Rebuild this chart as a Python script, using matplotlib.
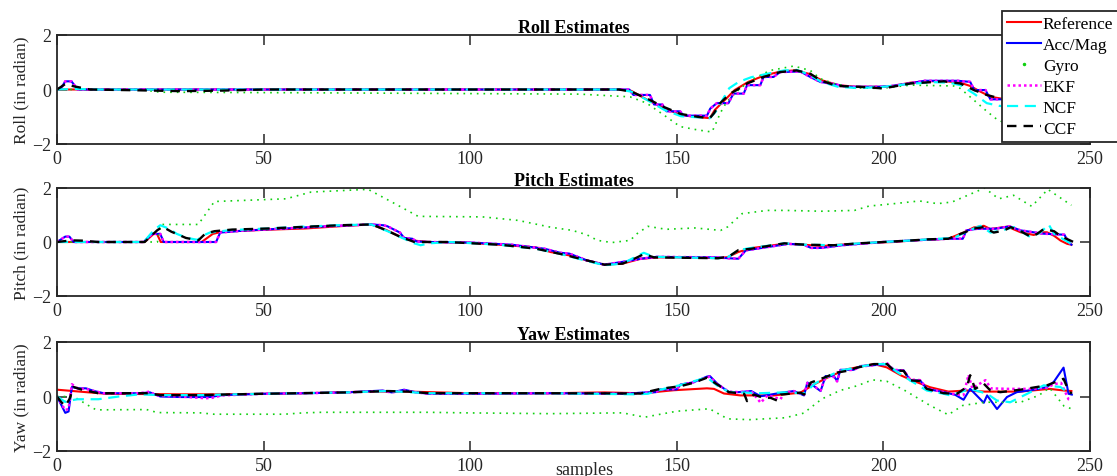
import matplotlib
matplotlib.use("Agg")
import matplotlib.pyplot as plt
from matplotlib.lines import Line2D

plt.rcParams['font.family'] = ['Liberation Serif', 'DejaVu Serif']

labels = ['Reference', 'Acc/Mag', 'Gyro', 'EKF', 'NCF', 'CCF']
titles = ['Roll Estimates', 'Pitch Estimates', 'Yaw Estimates']
ylabels = ['Roll (in radian)', 'Pitch (in radian)', 'Yaw (in radian)']
xticks = [0, 50, 100, 150, 200, 250]
yticks = [-2, 0, 2]

# ---------------- roll ----------------
roll_ref_x = [0, 136, 139, 143, 147, 151, 154, 158, 159.2, 161.6, 164, 167.3, 171.3, 175.4, 178.6, 181.9,
              185.1, 189.1, 193.2, 199.6, 202.5, 206.5, 210.6, 214.6, 218.6, 221, 223.5, 226, 228.4, 232, 236, 240, 246]
roll_ref_y = [0, 0, -0.05, -0.39, -0.69, -0.93, -1.0, -1.05, -0.75, -0.39, -0.02, 0.28, 0.52, 0.67, 0.70, 0.58,
              0.34, 0.16, 0.10, 0.10, 0.13, 0.25, 0.30, 0.31, 0.25, 0.13, -0.08, -0.27, -0.33, -0.4, -0.45, -0.5, -0.5]
roll_acc_x = [0, 1, 2, 3.5, 5, 138.5, 139.5, 143.5, 144.5, 146.5, 147.5, 150.8, 151.6, 157.3, 158.1, 159.7,
              162.5, 163.7, 166.2, 167, 170.2, 171, 173.4, 175, 179.9, 182.3, 184.7, 187.9, 191.2, 199, 202, 206,
              210, 218, 221, 222, 224.7, 225.9, 228.3, 232, 236, 240, 246]
roll_acc_y = [0, 0.05, 0.3, 0.3, 0, 0, -0.2, -0.2, -0.55, -0.55, -0.8, -0.8, -0.96, -0.96, -0.7, -0.5,
              -0.5, -0.15, -0.15, 0.16, 0.16, 0.46, 0.46, 0.64, 0.66, 0.46, 0.28, 0.2, 0.1, 0.1, 0.13, 0.22,
              0.32, 0.32, 0.28, -0.02, -0.02, -0.36, -0.36, -0.4, -0.45, -0.5, -0.5]
roll_gyro_x = [0, 20, 25, 60, 100, 126.6, 138.7, 142.7, 146.8, 150.8, 154.9, 158.5, 159.3, 160.5, 162.1,
               165.3, 168.6, 172.6, 178.3, 182.3, 184.7, 188, 192.8, 199.3, 206.5, 217, 218.6, 221.9, 225.1,
               227.5, 232, 238, 246]
roll_gyro_y = [0, 0, -0.1, -0.12, -0.15, -0.17, -0.27, -0.5, -0.93, -1.36, -1.48, -1.56, -1.3, -0.87, -0.45,
               0.04, 0.4, 0.7, 0.86, 0.7, 0.4, 0.22, 0.06, 0.04, 0.16, 0.13, 0.04, -0.39, -0.81,
               -1.1, -1.4, -1.6, -1.7]
roll_ekf_x = roll_acc_x
roll_ekf_y = roll_acc_y
roll_ncf_x = [0, 5, 10, 136, 139, 143, 147, 151, 155, 158, 159.5, 161, 162.7, 165, 168, 172, 176, 179, 182,
              185, 189, 194, 200, 206, 212, 216, 218.6, 221.9, 225, 228, 232, 240, 246]
roll_ncf_y = [0, 0.02, 0, 0, -0.08, -0.4, -0.75, -0.98, -1.02, -1.05, -0.8, -0.4, 0.05, 0.28, 0.45, 0.58,
              0.7, 0.72, 0.55, 0.28, 0.1, 0.05, 0.1, 0.2, 0.27, 0.25, 0.16, -0.15, -0.5, -0.6, -0.65, -0.7, -0.7]
roll_ccf_x = [0, 1, 2, 4, 8, 20, 30, 40, 50, 136, 139, 143, 147, 151, 155, 158, 159, 160.5, 162.9, 164.5,
              167, 171, 175, 179, 182.3, 184.7, 188.7, 194, 200, 206.5, 214.6, 218.6, 221.9, 225, 228.3, 232,
              240, 246]
roll_ccf_y = [0, 0.1, 0.2, 0.12, 0, -0.03, -0.06, -0.04, 0, 0, -0.08, -0.35, -0.65, -0.9, -1.0, -1.05,
              -0.87, -0.5, -0.15, -0.02, 0.22, 0.46, 0.64, 0.7, 0.58, 0.34, 0.13, 0.1, 0.04, 0.22, 0.3, 0.22,
              -0.02, -0.2, -0.33, -0.45, -0.55, -0.55]

# ---------------- pitch ----------------
pitch_ref_x = [0, 21.2, 23.4, 24.2, 25.1, 35, 37.7, 40, 50, 60, 70, 76, 79.6, 83, 86.5, 90, 98.6, 107,
               115.9, 119.4, 123.8, 128.2, 132.5, 136.9, 141.3, 145.7, 154.4, 159.7, 162.3, 164.9, 168.4,
               171.9, 176.3, 180.7, 185.1, 189.5, 198.2, 202.6, 207, 211.3, 215.7, 219.5, 221.9, 224.3,
               225.9, 230, 233.2, 236.4, 238, 239.6, 241.3, 242.9, 244.5, 245.5]
pitch_ref_y = [0, 0, 0.3, 0.3, 0, 0, 0.3, 0.38, 0.45, 0.5, 0.6, 0.65, 0.45, 0.2, 0.05, 0, -0.02, -0.1,
               -0.2, -0.37, -0.49, -0.68, -0.84, -0.8, -0.62, -0.57, -0.57, -0.6, -0.56, -0.37, -0.22,
               -0.15, -0.06, -0.1, -0.15, -0.1, -0.02, 0, 0.06, 0.09, 0.12, 0.36, 0.54, 0.6,
               0.48, 0.57, 0.36, 0.26, 0.36, 0.36, 0.23, 0.05, -0.07, -0.1]
pitch_acc_x = [0, 1, 2, 3, 4, 21, 23, 25, 25.8, 38.5, 39.5, 45, 55, 65, 76, 79, 80, 83, 84, 86, 87, 90,
               100, 110, 118, 121.8, 124, 128.2, 132.5, 137.5, 141.3, 145, 159.7, 162.3, 164.9, 166.7,
               171.9, 176.9, 180.7, 182.5, 185, 190, 200, 210, 215.7, 219.2, 220.1, 222.7, 227, 230.6,
               233.2, 235.9, 238.5, 243.8, 244.7, 245.5]
pitch_acc_y = [0, 0.1, 0.2, 0.2, 0, 0, 0.3, 0.3, 0, 0, 0.35, 0.42, 0.5, 0.58, 0.65, 0.62, 0.58, 0.35,
               0.15, 0.12, 0.02, 0, -0.02, -0.1, -0.25, -0.4, -0.43, -0.68, -0.84, -0.72, -0.62, -0.55,
               -0.57, -0.6, -0.62, -0.31, -0.19, -0.07, -0.1, -0.22, -0.22, -0.12, 0, 0.08, 0.12, 0.12,
               0.43, 0.49, 0.49, 0.58, 0.43, 0.37, 0.31, 0.27, 0.02, -0.1]
pitch_gyro_x = [0, 24.3, 25.1, 34.2, 38.1, 46.8, 55.4, 61.5, 68.4, 75.3, 81.4, 87.4, 103, 111.6, 119.4,
                124.7, 128.2, 130.8, 134.3, 138.7, 140.4, 143, 147.4, 154.4, 160.6, 162.3, 165.8, 171.9,
                176.3, 185, 193, 196.5, 202.6, 208.7, 213.1, 216.6, 224.5, 227.9, 231.5, 235.9, 239.8, 245.5]
pitch_gyro_y = [0, 0, 0.65, 0.65, 1.5, 1.55, 1.6, 1.85, 1.9, 1.95, 1.45, 0.95, 0.93, 0.8, 0.55,
                0.43, 0.27, 0.06, -0.02, 0.06, 0.31, 0.58, 0.47, 0.52, 0.43, 0.56, 1.05, 1.17,
                1.17, 1.14, 1.17, 1.33, 1.42, 1.52, 1.42, 1.48, 2.0, 1.6, 1.73, 1.32, 1.95, 1.36]
pitch_ekf_x = pitch_acc_x
pitch_ekf_y = pitch_acc_y
pitch_ncf_x = [0, 21, 23.5, 25, 27, 29, 31.5, 34, 35.5, 37, 42, 51, 60, 68, 76, 80, 84, 86.5, 88, 90, 95,
               107, 116, 121.8, 128.2, 132.5, 136.9, 140, 142, 144.5, 160, 162.5, 164.9, 168, 172, 176,
               181, 188, 194, 200, 206, 211, 217, 220.3, 223.5, 225.9, 228.3, 231.6, 235.6, 238, 240,
               241.3, 245.3]
pitch_ncf_y = [0, 0, 0.45, 0.62, 0.5, 0.3, 0.15, 0.08, 0.25, 0.35, 0.44, 0.5, 0.57, 0.62, 0.65, 0.4,
               0.12, -0.05, -0.12, -0.05, 0, -0.1, -0.25, -0.44, -0.7, -0.86, -0.8, -0.55, -0.4, -0.55,
               -0.6, -0.55, -0.3, -0.22, -0.14, -0.05, -0.1, -0.12, -0.05, 0, 0.05, 0.1, 0.15, 0.4, 0.6,
               0.35, 0.42, 0.55, 0.18, 0.35, 0.65, 0.3, -0.05]
pitch_ccf_x = [0, 3.5, 6.1, 10, 21.2, 24.3, 25.6, 27.7, 31.2, 34.2, 35.9, 38.1, 42.4, 51.1, 59.7, 68.4,
               76.2, 79.6, 83.1, 86.5, 94.3, 107.3, 116, 121.8, 128.2, 132.5, 136.9, 140, 142, 144.5, 160,
               162.5, 164.9, 168, 172, 176, 181, 188, 194, 200, 206, 211, 215.7, 219.5, 221.9, 224.3,
               226.7, 229.1, 230.8, 233.2, 235.6, 237.2, 238.8, 241.3, 242.9, 246]
pitch_ccf_y = [0, 0.06, 0.05, 0, 0, 0.44, 0.56, 0.38, 0.15, 0.06, 0.31, 0.4, 0.46, 0.5, 0.56, 0.62,
               0.65, 0.44, 0.19, 0, 0, -0.1, -0.25, -0.44, -0.68, -0.84, -0.8, -0.6, -0.45, -0.57, -0.6,
               -0.55, -0.3, -0.25, -0.15, -0.05, -0.1, -0.12, -0.05, 0, 0.05, 0.1, 0.12, 0.35, 0.5, 0.55,
               0.35, 0.42, 0.55, 0.4, 0.2, 0.3, 0.48, 0.4, 0.22, 0.0]

# ---------------- yaw ----------------
yaw_ref_x = [0, 7.8, 12, 30, 40, 60, 75, 85, 100, 119.4, 132.5, 141.3, 145.2, 149.3, 157.3, 159, 161.4,
             165.4, 173.5, 179.9, 183.2, 187.2, 191.2, 197.7, 200.8, 204.3, 207, 211.3, 215.7, 220.1,
             224.5, 233.2, 240.2, 243.7, 245.5]
yaw_ref_y = [0.25, 0.15, 0.1, 0.08, 0.08, 0.12, 0.18, 0.18, 0.12, 0.12, 0.15, 0.12, 0.17, 0.23, 0.3,
             0.28, 0.11, 0.04, 0.04, 0.14, 0.44, 0.75, 1.0, 1.19, 1.07, 0.77, 0.59, 0.34, 0.18, 0.22,
             0.18, 0.18, 0.28, 0.22, 0.2]
yaw_acc_x = [0, 1, 2, 2.8, 3.6, 5, 7, 9, 11.3, 20, 22.5, 25, 30, 37, 40, 50, 60, 70, 78.8, 81, 84, 87,
             90, 100, 119.4, 138, 141.2, 145, 146, 150, 150.9, 154, 157.3, 158, 159.8, 162.6, 165, 168,
             170.3, 175, 178.3, 180.8, 181.6, 183.2, 184.8, 186, 188, 188.8, 189.6, 192.8, 194.5, 197.7,
             200.9, 202.5, 204.9, 206.5, 208.9, 210.5, 214.6, 217.4, 219.4, 221, 224.3, 225.1, 227.5,
             229.9, 232.3, 236.4, 239.6, 241.2, 243.6, 244.8, 245.6]
yaw_acc_y = [0, -0.3, -0.6, -0.55, 0.35, 0.3, 0.3, 0.2, 0.12, 0.12, 0.15, 0.0, -0.02, -0.02, 0.05, 0.1,
             0.12, 0.15, 0.22, 0.15, 0.25, 0.15, 0.1, 0.1, 0.12, 0.1, 0.14, 0.16, 0.26, 0.26, 0.44, 0.52,
             0.73, 0.75, 0.47, 0.16, 0.16, 0.2, 0.01, 0.13, 0.2, 0.04, 0.51, 0.38, 0.2, 0.75, 0.75,
             0.57, 0.98, 0.98, 1.12, 1.15, 1.19, 0.96, 0.96, 0.59, 0.59, 0.28, 0.16, 0.06, -0.12, 0.28,
             -0.23, 0.04, -0.46, -0.02, 0.16, 0.25, 0.35, 0.53, 1.06, 0.1, 0.07]
yaw_gyro_x = [0, 4, 8.7, 9.6, 21.7, 24.3, 34.6, 38, 55, 59.7, 64, 90, 98.6, 119.4, 136.9, 142.2, 145.7,
              150, 157.9, 162.3, 167.6, 176.3, 180.7, 185.1, 189.5, 193.8, 197.3, 200.8, 205.2, 211.3,
              215.7, 219.2, 224.5, 233.2, 237.6, 240.2, 243.7, 245.5]
yaw_gyro_y = [0, 0, -0.43, -0.49, -0.48, -0.59, -0.6, -0.65, -0.65, -0.6, -0.58, -0.58, -0.6, -0.63,
              -0.6, -0.76, -0.66, -0.54, -0.45, -0.82, -0.85, -0.78, -0.61, -0.09, 0.22, 0.4, 0.61, 0.56,
              0.22, -0.33, -0.67, -0.33, -0.21, -0.21, 0.04, 0.32, -0.35, -0.45]
yaw_ekf_x = [0, 1, 2, 2.8, 3.6, 5, 7, 9, 11.3, 20, 22.5, 23.5, 25, 30, 35.5, 37.2, 40, 50, 60, 70, 78.8,
             81, 84, 87, 90, 100, 119.4, 138, 141.2, 145, 146, 150, 150.9, 154, 157.3, 158, 159.8, 162.6,
             165, 168, 170.3, 172, 175.1, 176, 178.3, 180.8, 181.6, 183.2, 184.8, 186, 188, 188.8, 189.6,
             192.8, 194.5, 197.7, 200.9, 202.5, 204.9, 206.5, 208.9, 210.5, 214.6, 217.4, 219.4, 220.6,
             221.5, 224.7, 226, 230, 236, 239.6, 241.2, 243, 244.8, 245.6]
yaw_ekf_y = [0, -0.25, -0.5, -0.45, 0.45, 0.3, 0.28, 0.2, 0.12, 0.12, 0.18, 0.08, 0.02, 0.0, -0.06,
             -0.06, 0.04, 0.1, 0.12, 0.15, 0.2, 0.15, 0.22, 0.15, 0.1, 0.1, 0.12, 0.1, 0.12, 0.17, 0.26,
             0.28, 0.42, 0.52, 0.7, 0.73, 0.45, 0.18, 0.16, 0.2, -0.23, 0.05, -0.1, 0.13, 0.2, 0.06,
             0.5, 0.38, 0.22, 0.72, 0.72, 0.55, 0.95, 0.98, 1.1, 1.15, 1.22, 0.98, 0.96, 0.62, 0.6, 0.3,
             0.16, 0.08, 0.05, 0.8, 0.3, 0.6, 0.3, 0.28, 0.28, 0.32, 0.45, 0.5, -0.1, -0.1]
yaw_ncf_x = [0, 2, 3, 5, 10, 15, 20, 25, 35, 40, 50, 70, 80, 90, 119.4, 140, 143, 146, 150.9, 157.3,
             159.8, 162.6, 170, 176, 181, 183.2, 186, 189.6, 194.4, 197.7, 200.9, 203.3, 206.5, 210.5,
             214.6, 216.2, 218.6, 221, 225.1, 227.5, 230.7, 234.8, 238.8, 242.8, 245.2]
yaw_ncf_y = [0, -0.2, -0.15, -0.1, -0.1, 0, 0.08, 0.05, 0.05, 0.07, 0.1, 0.15, 0.2, 0.12, 0.12, 0.08,
             0.1, 0.25, 0.42, 0.7, 0.4, 0.17, 0.12, 0.15, 0.12, 0.45, 0.7, 0.95, 1.09, 1.19, 1.19, 0.9,
             0.59, 0.22, 0.1, 0.04, 0.16, 0.28, 0.1, -0.15, -0.21, 0.1, 0.41, 0.35, 0.1]
yaw_ccf_x = [0, 1, 2, 3, 4, 6, 10, 22, 25, 35, 40, 50, 70, 80, 85, 90, 119.4, 141.2, 146, 150.9, 154,
             157.3, 159.8, 162.6, 166.3, 167, 168.6, 171, 172.7, 174.3, 175.1, 180, 180.8, 182.4, 185.6,
             188.8, 191.2, 193.6, 197.7, 200.9, 202.5, 204.9, 206.5, 208.9, 210.5, 214.6, 217.8, 220.2,
             221, 222.2, 224.3, 225.9, 228.3, 233.2, 239.6, 243.6, 244.8, 245.6]
yaw_ccf_y = [0, -0.2, -0.35, -0.1, 0.35, 0.25, 0.12, 0.12, 0.05, 0.05, 0.07, 0.1, 0.15, 0.2, 0.18,
             0.12, 0.12, 0.11, 0.28, 0.38, 0.5, 0.69, 0.44, 0.16, 0.1, -0.17, 0.07, -0.05, -0.05, -0.15,
             0.07, 0.14, 0.07, 0.51, 0.69, 0.88, 0.94, 1.06, 1.19, 1.19, 0.96, 0.94, 0.59, 0.57, 0.28,
             0.12, 0.1, 0.35, 0.78, 0.28, 0.47, 0.22, 0.16, 0.25, 0.41, 0.65, 0.22, 0.1]

series = [
    [(roll_ref_x, roll_ref_y), (roll_acc_x, roll_acc_y), (roll_gyro_x, roll_gyro_y),
     (roll_ekf_x, roll_ekf_y), (roll_ncf_x, roll_ncf_y), (roll_ccf_x, roll_ccf_y)],
    [(pitch_ref_x, pitch_ref_y), (pitch_acc_x, pitch_acc_y), (pitch_gyro_x, pitch_gyro_y),
     (pitch_ekf_x, pitch_ekf_y), (pitch_ncf_x, pitch_ncf_y), (pitch_ccf_x, pitch_ccf_y)],
    [(yaw_ref_x, yaw_ref_y), (yaw_acc_x, yaw_acc_y), (yaw_gyro_x, yaw_gyro_y),
     (yaw_ekf_x, yaw_ekf_y), (yaw_ncf_x, yaw_ncf_y), (yaw_ccf_x, yaw_ccf_y)],
]

green = '#10d010'
styles = [
    dict(color='red', lw=1.5, ls='-'),
    dict(color='blue', lw=1.5, ls='-'),
    dict(color=green, lw=1.2, ls=(0, (1, 3))),
    dict(color='magenta', lw=1.8, ls=(0, (1, 1.2))),
    dict(color='cyan', lw=1.6, ls=(0, (5, 3))),
    dict(color='black', lw=1.7, ls=(0, (4, 3))),
]

W, H = 1117, 477
fig = plt.figure(figsize=(W / 100, H / 100), dpi=100)
# axes boxes in pixels: (top, bottom)
boxes = [(36, 145), (189, 297), (343, 452)]
left, right = 57, 1090
axes = []
for i, (top, bot) in enumerate(boxes):
    ax = fig.add_axes([left / W, (H - bot) / H, (right - left) / W, (bot - top) / H])
    for (x, y), st in zip(series[i], styles):
        ax.plot(x, y, **st)
    ax.set_xlim(0, 250)
    ax.set_ylim(-2, 2)
    ax.set_xticks(xticks)
    ax.set_yticks(yticks)
    ax.tick_params(direction='in', top=True, right=True, length=7.5, width=1.1,
                   labelsize=13, colors='#262626', pad=4)
    for sp in ax.spines.values():
        sp.set_linewidth(1.3)
        sp.set_color('#262626')
    ax.set_title(titles[i], fontsize=13, fontweight='bold', pad=2)
    ax.set_ylabel(ylabels[i], fontsize=12.5, color='#262626', labelpad=2)
    axes.append(ax)

axes[2].set_xlabel('samples', fontsize=13, color='#262626')
axes[2].xaxis.set_label_coords(0.51, -0.09)

# legend: Gyro entry shows a single dot like the original
handles = []
for lab, st in zip(labels, styles):
    if lab == 'Gyro':
        handles.append(Line2D([], [], color=green, ls='none', marker='.', markersize=3))
    else:
        handles.append(Line2D([], [], **st))
leg = fig.legend(handles, labels, loc='upper left', bbox_to_anchor=(1002 / W, 1 - 12 / H),
                 fontsize=12.5, frameon=True, fancybox=False, framealpha=1, edgecolor='#262626',
                 handlelength=1.95, handletextpad=0.1, labelspacing=0.27, borderpad=0.3,
                 borderaxespad=0, numpoints=1)
leg.get_frame().set_linewidth(1.3)

fig.savefig('out.png', dpi=100)
